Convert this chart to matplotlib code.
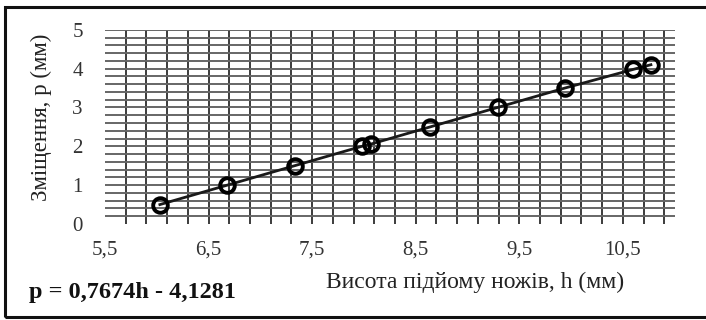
import numpy as np
import matplotlib.pyplot as plt
from matplotlib.patches import Rectangle

# measured points: knife lift height h (mm) vs displacement p (mm)
h_vals = [6.03, 6.68, 7.33, 7.98, 8.07, 8.64, 9.29, 9.94, 10.60, 10.77]
p_vals = [0.50, 1.00, 1.50, 2.00, 2.06, 2.50, 3.00, 3.50, 3.98, 4.10]

x_ticks = [5.5, 6.5, 7.5, 8.5, 9.5, 10.5]
x_tick_labels = ["5,5", "6,5", "7,5", "8,5", "9,5", "10,5"]
y_ticks = [0, 1, 2, 3, 4, 5]

x_label = "Висота підйому ножів, h (мм)"
y_label = "Зміщення, p (мм)"
equation = "p = 0,7674h - 4,1281"

plt.rcParams["font.family"] = ["Liberation Serif", "DejaVu Serif"]

fig = plt.figure(figsize=(7.06, 3.2), dpi=100)
ax = fig.add_axes([0.1487, 0.30, 0.807, 0.607])

ax.set_xlim(5.5, 11.0)
ax.set_ylim(0, 5)

# dense grid: verticals every 0.2 from 5.5, horizontals every 0.2
for xv in np.arange(5.7, 10.95, 0.2):
    ax.axvline(xv, color="#1a1a1a", lw=1.2, zorder=1)
for yv in np.arange(0.2, 5.05, 0.2):
    ax.axhline(yv, color="#666666", lw=1.4, zorder=1)

ax.plot(h_vals, p_vals, color="#1a1a1a", lw=2.0, zorder=3,
        marker="o", markersize=10.5, markerfacecolor="none",
        markeredgecolor="black", markeredgewidth=2.8)

for s in ax.spines.values():
    s.set_visible(False)
ax.tick_params(length=0, labelsize=15, colors="#333333")
ax.set_xticks(x_ticks)
ax.set_xticklabels(x_tick_labels)
ax.set_yticks(y_ticks)
ax.tick_params(axis="x", pad=12)
ax.tick_params(axis="y", pad=16)

fig.text(0.673, 0.116, x_label, ha="center", va="center", fontsize=17, color="#222222")
fig.text(0.058, 0.634, y_label, ha="center", va="center", rotation=90,
         fontsize=16.5, color="#222222")
fig.text(0.041, 0.085, equation, ha="left", va="center", fontsize=17.5,
         fontweight="bold", color="#111111")

# outer frame
fig.patches.append(Rectangle((5 / 706, 3 / 320), 710 / 706, 310 / 320,
                             transform=fig.transFigure, fill=False,
                             edgecolor="#111111", lw=2.2))

fig.savefig("out.png", dpi=100, facecolor="white")
